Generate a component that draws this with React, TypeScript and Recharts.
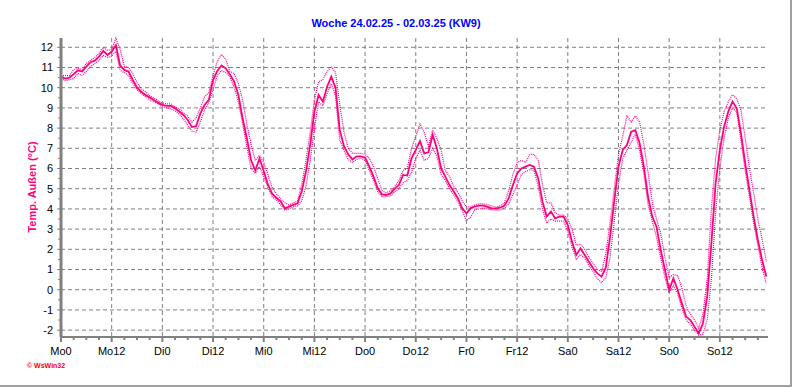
import { LineChart, Line, XAxis, YAxis, CartesianGrid } from "recharts";

// hourly outdoor temperature, week 24.02.25 - 02.03.25
const dayLabels = ["Mo0", "Mo12", "Di0", "Di12", "Mi0", "Mi12", "Do0", "Do12", "Fr0", "Fr12", "Sa0", "Sa12", "So0", "So12"];

const tempMain = [
  10.55, 10.45, 10.5, 10.67, 10.86, 10.8, 11.04, 11.26, 11.34, 11.54, 11.82, 11.62,
  11.79, 12.1, 11.1, 10.88, 10.8, 10.38, 10.0, 9.8, 9.64, 9.52, 9.39, 9.26,
  9.15, 9.1, 9.1, 8.98, 8.82, 8.65, 8.4, 8.05, 8.1, 8.73, 9.15, 9.4,
  10.38, 10.83, 11.1, 10.96, 10.66, 10.3, 9.64, 8.49, 7.5, 6.42, 5.9, 6.5,
  5.88, 5.2, 4.75, 4.55, 4.38, 4.03, 4.11, 4.2, 4.28, 4.86, 5.85, 7.17,
  8.82, 9.64, 9.31, 10.05, 10.55, 10.0, 7.9, 7.1, 6.7, 6.45, 6.6, 6.6,
  6.54, 6.09, 5.6, 5.02, 4.72, 4.69, 4.77, 4.99, 5.18, 5.68, 5.65, 6.5,
  6.92, 7.36, 6.75, 6.8, 7.66, 6.99, 6.0, 5.6, 5.18, 4.86, 4.52, 4.03,
  3.78, 4.03, 4.12, 4.16, 4.16, 4.1, 4.03, 4.03, 4.06, 4.16, 4.52, 5.18,
  5.76, 6.0, 6.09, 6.18, 6.09, 5.5, 4.36, 3.62, 3.87, 3.53, 3.62, 3.62,
  3.2, 2.38, 1.72, 2.05, 1.72, 1.39, 1.06, 0.81, 0.65, 1.1, 2.6, 4.4,
  6.1, 6.92, 7.16, 7.82, 7.9, 7.25, 6.09, 4.6, 3.62, 3.12, 1.97, 0.98,
  0.0, 0.56, 0.0, -0.67, -1.33, -1.5, -1.83, -2.16, -1.66, -0.34, 2.3, 5.27,
  6.92, 8.07, 8.82, 9.31, 8.98, 7.74, 6.26, 4.94, 3.62, 2.46, 1.47, 0.65,
];

const tempMax = [
  10.6, 10.6, 10.6, 10.9, 10.95, 10.9, 11.2, 11.35, 11.5, 11.7, 12.0, 11.85,
  11.9, 12.45, 11.9, 11.05, 11.0, 10.7, 10.25, 9.95, 9.8, 9.6, 9.5, 9.35,
  9.25, 9.2, 9.2, 9.05, 8.95, 8.75, 8.6, 8.3, 8.5, 9.0, 9.55, 9.75,
  10.6, 11.3, 11.65, 11.4, 10.8, 10.7, 10.2, 9.4, 8.2, 7.2, 6.4, 6.65,
  6.3, 5.7, 5.05, 4.75, 4.5, 4.3, 4.2, 4.3, 4.4, 5.2, 6.4, 7.8,
  9.4, 10.3, 10.4, 10.8, 11.05, 10.75, 9.2, 7.8, 7.0, 6.75, 6.75, 6.75,
  6.7, 6.5, 6.1, 5.5, 4.9, 4.8, 4.9, 5.1, 5.4, 5.9, 6.0, 7.0,
  7.6, 8.2, 7.8, 7.1, 7.9, 7.5, 6.9, 5.9, 5.6, 5.1, 4.8, 4.4,
  4.1, 4.1, 4.2, 4.25, 4.25, 4.2, 4.15, 4.1, 4.15, 4.3, 4.9, 5.7,
  6.3, 6.4, 6.3, 6.7, 6.7, 6.4, 5.2, 4.3, 4.3, 3.8, 3.7, 3.7,
  3.5, 3.0, 2.2, 2.25, 2.0, 1.6, 1.3, 1.0, 0.9, 1.8, 3.3, 5.0,
  6.7, 7.6, 8.6, 8.3, 8.6, 8.3, 7.2, 5.8, 4.3, 3.5, 2.8, 1.6,
  0.6, 0.75, 0.7, 0.1, -0.8, -1.2, -1.5, -1.9, -1.2, 0.5, 4.0, 6.5,
  7.9, 8.8, 9.3, 9.65, 9.45, 8.9, 7.5, 6.0, 4.8, 3.5, 2.5, 1.4,
];

const tempMin = [
  10.45, 10.35, 10.4, 10.45, 10.7, 10.6, 10.8, 11.05, 11.2, 11.35, 11.6, 11.5,
  11.55, 11.8, 10.85, 10.75, 10.6, 10.2, 9.9, 9.7, 9.55, 9.4, 9.3, 9.2,
  9.05, 9.0, 8.95, 8.85, 8.7, 8.45, 8.15, 7.85, 7.8, 8.3, 8.9, 9.25,
  9.9, 10.6, 10.85, 10.75, 10.55, 10.0, 9.3, 8.2, 7.1, 6.0, 5.75, 6.1,
  5.6, 5.05, 4.6, 4.45, 4.2, 3.95, 4.0, 4.1, 4.15, 4.4, 5.1, 6.4,
  8.0, 9.3, 9.1, 9.7, 10.2, 9.6, 7.4, 6.9, 6.45, 6.3, 6.45, 6.5,
  6.4, 5.9, 5.4, 4.85, 4.6, 4.6, 4.65, 4.85, 5.0, 5.3, 5.4, 5.8,
  6.5, 6.9, 6.4, 6.5, 7.0, 6.6, 5.7, 5.4, 5.0, 4.7, 4.35, 3.9,
  3.42, 3.6, 3.95, 4.0, 4.05, 4.0, 3.95, 3.95, 3.95, 4.05, 4.25, 4.7,
  5.2, 5.7, 5.85, 5.95, 5.9, 5.1, 4.0, 3.3, 3.5, 3.4, 3.4, 3.4,
  2.9, 2.1, 1.5, 1.75, 1.55, 1.2, 0.9, 0.55, 0.35, 0.6, 1.6, 3.4,
  5.2, 6.5, 6.9, 7.3, 7.7, 6.9, 5.8, 4.2, 3.4, 2.6, 1.6, 0.6,
  -0.15, 0.2, -0.2, -0.9, -1.5, -1.7, -2.0, -2.25, -2.2, -1.5, 0.5, 3.8,
  6.0, 7.5, 8.5, 9.0, 8.8, 7.4, 5.9, 4.6, 3.3, 2.2, 1.1, 0.3,
];

const tempTicks = [-2, -1, 0, 1, 2, 3, 4, 5, 6, 7, 8, 9, 10, 11, 12];

const PINK = "#ff0080";
const GRAY = "#808080";
const FONT = "'Liberation Sans', Arial, sans-serif";
const X_DOMAIN: [number, number] = [0, 167.4];
const Y_DOMAIN: [number, number] = [-2.34, 12.46];

const rows = tempMain.map((t, i) => ({ hour: i, temp: t, max: tempMax[i], min: tempMin[i] }));
const majorHours = dayLabels.map((_, i) => i * 12);
const minorHours = Array.from({ length: 56 }, (_, i) => i * 3);
const minorTemps = Array.from({ length: 29 }, (_, i) => -2 + i * 0.5);

function HourTick({ x, y, payload }: any) {
  const major = payload.value % 12 === 0;
  return (
    <g>
      <line x1={x} x2={x} y1={y} y2={y + (major ? 5 : 3)} stroke={GRAY} strokeWidth={2} />
      {major && (
        <text x={x} y={y + 18} textAnchor="middle" fontSize={11} fontFamily={FONT} fill="#000">
          {dayLabels[payload.value / 12]}
        </text>
      )}
    </g>
  );
}

function TempTick({ x, y, payload }: any) {
  const major = Number.isInteger(payload.value);
  return (
    <g>
      <line x1={x - (major ? 4 : 3)} x2={x} y1={y} y2={y} stroke={GRAY} strokeWidth={1} />
      {major && (
        <text x={x - 8} y={y} dy="0.36em" textAnchor="end" fontSize={11} fontFamily={FONT} fill="#000">
          {payload.value}
        </text>
      )}
    </g>
  );
}

export default function App() {
  return (
    <div
      style={{
        position: "absolute",
        left: 0,
        top: 0,
        width: 792,
        height: 387,
        boxSizing: "border-box",
        background: "#fff",
        borderRight: "2px solid #a0a0a0",
        borderBottom: "2px solid #a0a0a0",
        fontFamily: FONT,
      }}
    >
      <div
        style={{
          position: "absolute",
          top: 17,
          left: 0,
          width: 792,
          textAlign: "center",
          fontSize: 11,
          fontWeight: 700,
          color: "#0000ff",
        }}
      >
        Woche 24.02.25 - 02.03.25 (KW9)
      </div>
      <div
        style={{
          position: "absolute",
          left: 32,
          top: 187,
          transform: "translate(-50%, -50%) rotate(-90deg)",
          whiteSpace: "nowrap",
          fontSize: 11,
          fontWeight: 700,
          color: PINK,
        }}
      >
        Temp. Außen (°C)
      </div>
      <div
        style={{
          position: "absolute",
          left: 27,
          top: 362,
          fontSize: 7,
          fontWeight: 700,
          color: "#ff0000",
          whiteSpace: "nowrap",
        }}
      >
        © WsWin32
      </div>
      <div style={{ position: "absolute", left: 0, top: 0 }}>
        <LineChart width={792} height={387} data={rows} margin={{ top: 38, right: 24, left: 0, bottom: 0 }}>
          <XAxis
            xAxisId="hours"
            dataKey="hour"
            type="number"
            domain={X_DOMAIN}
            ticks={minorHours}
            interval={0}
            height={50}
            tickSize={0}
            tickMargin={0}
            tickLine={false}
            tick={<HourTick />}
            axisLine={{ stroke: GRAY, strokeWidth: 2 }}
          />
          <YAxis
            yAxisId="temps"
            type="number"
            domain={Y_DOMAIN}
            ticks={minorTemps}
            interval={0}
            width={61}
            tickSize={0}
            tickMargin={0}
            tickLine={false}
            tick={<TempTick />}
            axisLine={{ stroke: GRAY, strokeWidth: 3 }}
          />
          <XAxis
            xAxisId="top"
            orientation="top"
            dataKey="hour"
            type="number"
            domain={X_DOMAIN}
            height={0}
            tick={false}
            tickLine={false}
            axisLine={{ stroke: "#000", strokeWidth: 1 }}
          />
          <YAxis
            yAxisId="right"
            orientation="right"
            type="number"
            domain={Y_DOMAIN}
            width={0}
            tick={false}
            tickLine={false}
            axisLine={{ stroke: "#000", strokeWidth: 1 }}
          />
          <CartesianGrid
            xAxisId="hours"
            yAxisId="temps"
            horizontalValues={tempTicks}
            verticalValues={majorHours}
            stroke={GRAY}
            strokeDasharray="4 3"
          />
          <Line
            xAxisId="hours"
            yAxisId="temps"
            dataKey="max"
            type="linear"
            stroke={PINK}
            strokeWidth={1.2}
            strokeDasharray="1 1"
            dot={false}
            isAnimationActive={false}
          />
          <Line
            xAxisId="hours"
            yAxisId="temps"
            dataKey="min"
            type="linear"
            stroke={PINK}
            strokeWidth={1.2}
            strokeDasharray="1 1"
            dot={false}
            isAnimationActive={false}
          />
          <Line
            xAxisId="hours"
            yAxisId="temps"
            dataKey="temp"
            type="linear"
            stroke={PINK}
            strokeWidth={1.8}
            dot={false}
            isAnimationActive={false}
          />
        </LineChart>
      </div>
    </div>
  );
}
